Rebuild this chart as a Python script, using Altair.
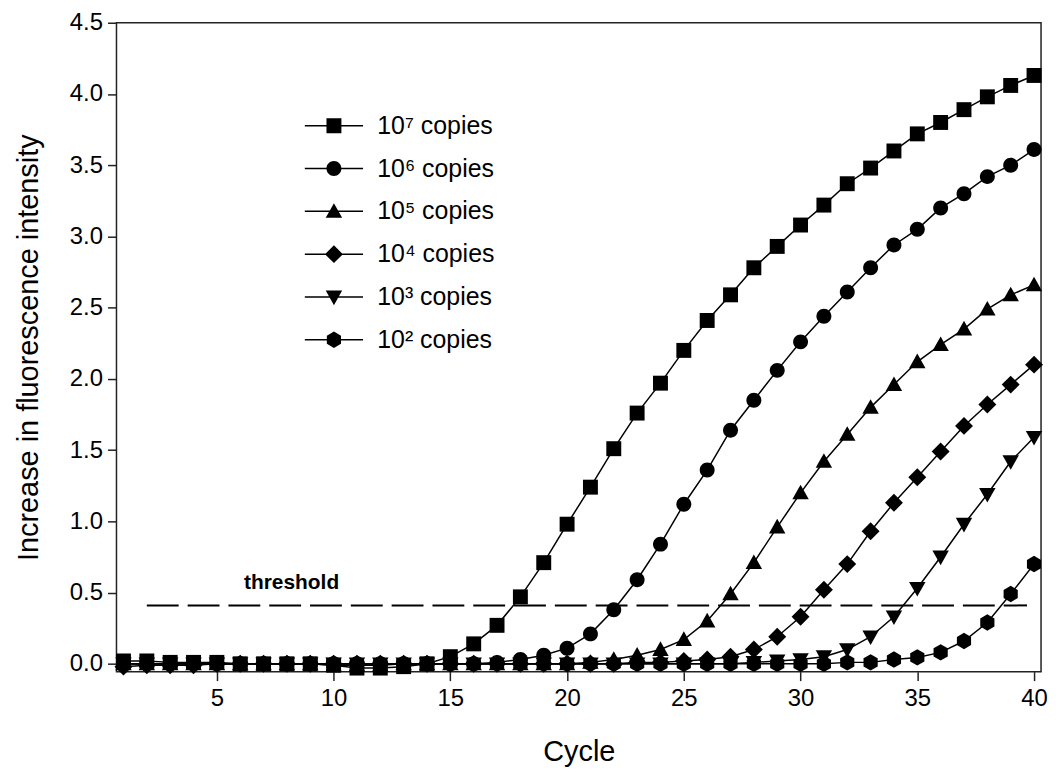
import altair as alt
import pandas as pd

cycles = list(range(1, 41))
series_names = ["10⁷ copies", "10⁶ copies", "10⁵ copies", "10⁴ copies", "10³ copies", "10² copies"]

s7 = [0.02, 0.02, 0.01, 0.01, 0.01, 0.0, 0.0, 0.0, 0.0, -0.01, -0.03, -0.03, -0.02, 0.0, 0.05,
      0.14, 0.27, 0.47, 0.71, 0.98, 1.24, 1.51, 1.76, 1.97, 2.20, 2.41, 2.59, 2.78, 2.93, 3.08,
      3.22, 3.37, 3.48, 3.60, 3.72, 3.80, 3.89, 3.98, 4.06, 4.13]
s6 = [0.0, 0.0, 0.0, 0.0, 0.0, 0.0, 0.0, 0.0, 0.0, 0.0, 0.0, 0.0, 0.0, 0.0, 0.0,
      0.0, 0.01, 0.03, 0.06, 0.11, 0.21, 0.38, 0.59, 0.84, 1.12, 1.36, 1.64, 1.85, 2.06, 2.26,
      2.44, 2.61, 2.78, 2.94, 3.05, 3.20, 3.30, 3.42, 3.50, 3.61]
s5 = [0.0, 0.0, 0.0, 0.0, 0.0, 0.0, 0.0, 0.0, 0.0, -0.01, -0.01, -0.01, 0.0, 0.0, 0.0,
      0.0, 0.0, 0.0, 0.0, 0.0, 0.01, 0.03, 0.06, 0.10, 0.17, 0.30, 0.49, 0.71, 0.96, 1.20,
      1.42, 1.61, 1.80, 1.96, 2.12, 2.24, 2.35, 2.49, 2.59, 2.66]
s4 = [-0.02, -0.01, -0.01, -0.01, 0.0, 0.0, 0.0, 0.0, 0.0, 0.0, 0.0, 0.0, 0.0, 0.0, 0.0,
      0.0, 0.0, 0.0, 0.0, 0.0, 0.0, 0.0, 0.01, 0.01, 0.02, 0.03, 0.05, 0.10, 0.19, 0.33,
      0.52, 0.70, 0.93, 1.13, 1.31, 1.49, 1.67, 1.82, 1.96, 2.10]
s3 = [0.0, 0.0, 0.0, 0.0, 0.0, 0.0, 0.0, 0.0, 0.0, 0.0, 0.0, 0.0, 0.0, 0.0, 0.0,
      0.0, 0.0, 0.0, 0.0, 0.0, 0.0, 0.0, 0.0, 0.0, 0.0, 0.0, 0.0, 0.01, 0.02, 0.03,
      0.05, 0.10, 0.19, 0.33, 0.53, 0.75, 0.98, 1.19, 1.42, 1.59]
s2 = [0.0, 0.0, 0.0, 0.0, 0.0, 0.0, 0.0, 0.0, 0.0, 0.0, 0.0, 0.0, 0.0, 0.0, 0.0,
      0.0, 0.0, 0.0, 0.0, 0.0, 0.0, 0.0, 0.0, 0.0, 0.0, 0.0, 0.0, 0.0, 0.0, 0.0,
      0.0, 0.01, 0.01, 0.03, 0.045, 0.08, 0.16, 0.29, 0.49, 0.70]

threshold_value = [0.41]
threshold_start = [2.0]
threshold_end = [39.7]
threshold_label = ["threshold"]
threshold_label_x = [8.2]
threshold_label_y = [0.565]

x_ticks = [5, 10, 15, 20, 25, 30, 35, 40]
y_ticks = [0.0, 0.5, 1.0, 1.5, 2.0, 2.5, 3.0, 3.5, 4.0, 4.5]

rows = []
for name, vals in zip(series_names, [s7, s6, s5, s4, s3, s2]):
    for c, v in zip(cycles, vals):
        rows.append({"cycle": c, "value": v, "series": name})
df = pd.DataFrame(rows)

marker_paths = [
    "M-1,-1H1V1H-1Z",
    "M-1,0A1,1,0,1,1,1,0A1,1,0,1,1,-1,0Z",
    "M0,-1.1L1.1,0.85L-1.1,0.85Z",
    "M0,-1.2L1.2,0L0,1.2L-1.2,0Z",
    "M-1.1,-0.85L1.1,-0.85L0,1.1Z",
    "M0,-1.1L0.95,-0.55L0.95,0.55L0,1.1L-0.95,0.55L-0.95,-0.55Z",
]
line_part = "M-3.9,-0.1H3.9V0.1H-3.9Z"
legend_paths = [line_part + p for p in marker_paths]

FONT = "Liberation Sans"

xscale = alt.Scale(domain=[0.7, 40.3], nice=False, zero=False)
yscale = alt.Scale(domain=[-0.055, 4.5], nice=False, zero=False)

xaxis = alt.Axis(values=x_ticks, title="Cycle", labelFontSize=24, titleFontSize=29,
                 titleFontWeight="normal", tickSize=9, tickWidth=1.5, tickColor="#222",
                 labelPadding=6, domain=False, grid=False, labelColor="black",
                 titleColor="black", titleY=80, titleBaseline="middle")
yaxis = alt.Axis(values=y_ticks, format=".1f", title="Increase in fluorescence intensity",
                 labelFontSize=24, titleFontSize=29, titleFontWeight="normal", tickSize=9,
                 tickWidth=1.5, tickColor="#222", labelPadding=5, domain=False, grid=False,
                 labelColor="black", titleColor="black", titleX=-88, titleY=326,
                 titleBaseline="middle")

base = alt.Chart(df)

lines = base.mark_line(color="black", strokeWidth=1.5).encode(
    x=alt.X("cycle:Q", scale=xscale, axis=xaxis),
    y=alt.Y("value:Q", scale=yscale, axis=yaxis),
    detail="series:N",
)

points = base.mark_point(filled=True, color="black", size=225, opacity=1).encode(
    x=alt.X("cycle:Q", scale=xscale),
    y=alt.Y("value:Q", scale=yscale),
    shape=alt.Shape("series:N", scale=alt.Scale(domain=series_names, range=marker_paths), legend=None),
)

legend_layer = base.transform_filter("false").transform_calculate(leg="datum.series").mark_point(
    filled=True, color="black", size=225, opacity=1).encode(
    x=alt.X("cycle:Q", scale=xscale),
    y=alt.Y("value:Q", scale=yscale),
    shape=alt.Shape("leg:N", scale=alt.Scale(domain=series_names, range=legend_paths),
                    legend=alt.Legend(orient="none", legendX=206, legendY=91, title=None,
                                      labelFont=FONT, labelFontSize=25, labelColor="black",
                                      labelOffset=31, rowPadding=17, padding=0,
                                      symbolSize=225, symbolStrokeWidth=0)),
)

thr_df = pd.DataFrame({"x": threshold_start, "x2": threshold_end, "y": threshold_value})
thr = alt.Chart(thr_df).mark_rule(color="black", strokeWidth=2, strokeDash=[32, 9]).encode(
    x=alt.X("x:Q", scale=xscale), x2="x2:Q", y=alt.Y("y:Q", scale=yscale))

lab_df = pd.DataFrame({"x": threshold_label_x, "y": threshold_label_y, "t": threshold_label})
lab = alt.Chart(lab_df).mark_text(font=FONT, fontSize=21, fontWeight="bold", color="black",
                                  align="center", baseline="middle").encode(
    x=alt.X("x:Q", scale=xscale), y=alt.Y("y:Q", scale=yscale), text="t:N")

chart = alt.layer(thr, lab, lines, points, legend_layer).resolve_scale(shape="independent").properties(
    width=929, height=652,
    autosize=alt.AutoSizeParams(type="none"),
    padding={"left": 109, "top": 13, "right": 8, "bottom": 95},
).configure(font=FONT).configure_view(stroke="#222", strokeWidth=1.5)

chart.save("out.html", embed_options={"renderer": "svg", "actions": False})
